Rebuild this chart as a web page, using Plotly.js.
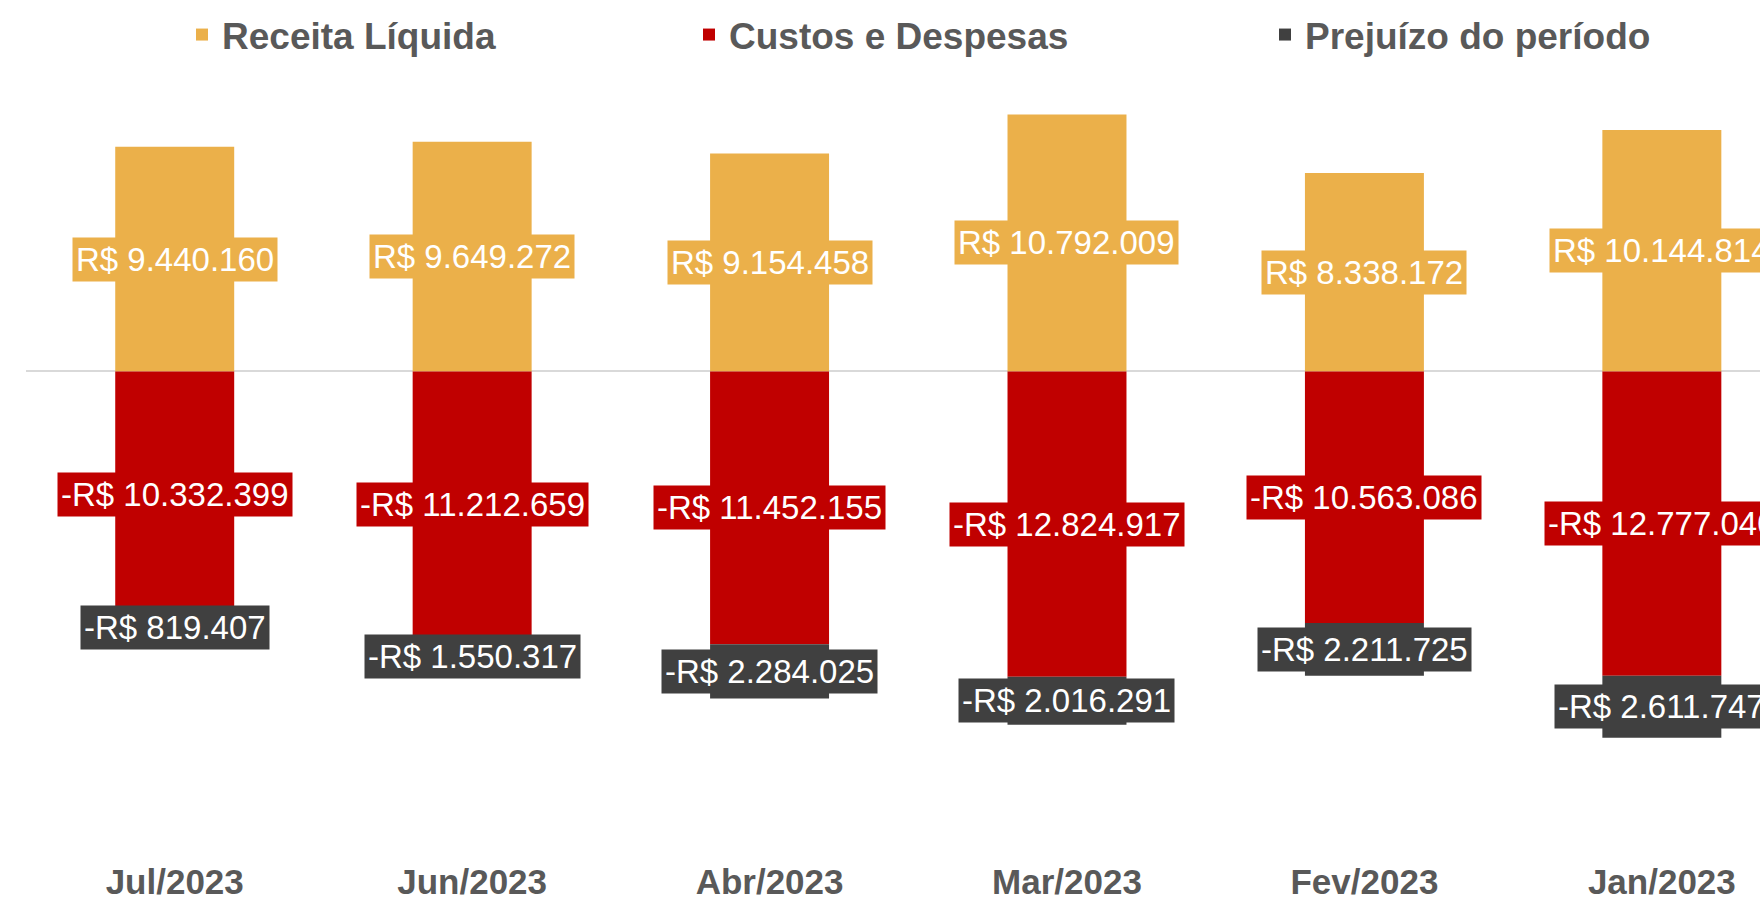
<!DOCTYPE html>
<html>
<head>
<meta charset="utf-8">
<script src="https://cdn.plot.ly/plotly-3.0.1.min.js"></script>
<style>
  html, body { margin: 0; padding: 0; background: #ffffff; }
  #chart { width: 1760px; height: 906px; }
</style>
</head>
<body>
<div id="chart"></div>
<script>
// ---- Data ----
const months   = ['Jul/2023', 'Jun/2023', 'Abr/2023', 'Mar/2023', 'Fev/2023', 'Jan/2023'];
const receita  = [9440160, 9649272, 9154458, 10792009, 8338172, 10144814];
const custos   = [-10332399, -11212659, -11452155, -12824917, -10563086, -12777040];
const prejuizo = [-819407, -1550317, -2284025, -2016291, -2211725, -2611747];
const seriesNames = ['Receita Líquida', 'Custos e Despesas', 'Prejuízo do período'];

// ---- Styles ----
const COL_REC = '#EBB04A';
const COL_CUS = '#C00000';
const COL_PRE = '#404040';
const TEXT_GREY = '#595959';
const FONT = 'Liberation Sans, Arial, sans-serif';

function brl(v) {
  const s = Math.round(Math.abs(v)).toString().replace(/\B(?=(\d{3})+(?!\d))/g, '.');
  return (v < 0 ? '-' : '') + 'R$ ' + s;
}

const common = { type: 'bar', x: months, width: 0.4, hoverinfo: 'skip' };
const traces = [
  Object.assign({}, common, { name: seriesNames[0], y: receita,  marker: { color: COL_REC }, legend: 'legend'  }),
  Object.assign({}, common, { name: seriesNames[1], y: custos,   marker: { color: COL_CUS }, legend: 'legend2' }),
  Object.assign({}, common, { name: seriesNames[2], y: prejuizo, marker: { color: COL_PRE }, legend: 'legend3' })
];

// data labels with coloured boxes, placed at each segment's middle
const annotations = [];
function label(x, y, v, bg) {
  annotations.push({
    x: x, y: y, xref: 'x', yref: 'y', text: brl(v), showarrow: false,
    bgcolor: bg, borderpad: 3, xanchor: 'center', yanchor: 'middle',
    font: { family: FONT, size: 33, color: '#ffffff' }
  });
}
months.forEach((m, i) => {
  label(m, receita[i] / 2, receita[i], COL_REC);
  label(m, custos[i] / 2, custos[i], COL_CUS);
  label(m, custos[i] + prejuizo[i] / 2, prejuizo[i], COL_PRE);
});

function legendAt(px) {
  return {
    orientation: 'h', xref: 'container', yref: 'container',
    x: px / 1760, xanchor: 'left', y: 1 - 35 / 906, yanchor: 'middle',
    bgcolor: 'rgba(0,0,0,0)', borderwidth: 0,
    font: { family: FONT, size: 37, color: TEXT_GREY, weight: 'bold' }
  };
}

const layout = {
  width: 1760, height: 906,
  margin: { l: 26, r: 0, t: 100, b: 50, autoexpand: false },
  paper_bgcolor: '#ffffff', plot_bgcolor: '#ffffff',
  barmode: 'relative',
  showlegend: true,
  legend: legendAt(182),
  legend2: legendAt(689),
  legend3: legendAt(1265),
  xaxis: {
    type: 'category', range: [-0.5, 5.33],
    showgrid: false, zeroline: false, showline: false, ticks: '',
    ticklabelstandoff: 2,
    tickfont: { family: FONT, size: 35, color: TEXT_GREY, weight: 'bold' }
  },
  yaxis: {
    range: [-20.35e6, 11.40e6],
    showgrid: false, showticklabels: false, ticks: '', showline: false,
    zeroline: true, zerolinecolor: '#D9D9D9', zerolinewidth: 2,
    layer: 'above traces'
  },
  annotations: annotations,
  hovermode: false
};

Plotly.newPlot('chart', traces, layout, { displayModeBar: false, staticPlot: true });
</script>
</body>
</html>
